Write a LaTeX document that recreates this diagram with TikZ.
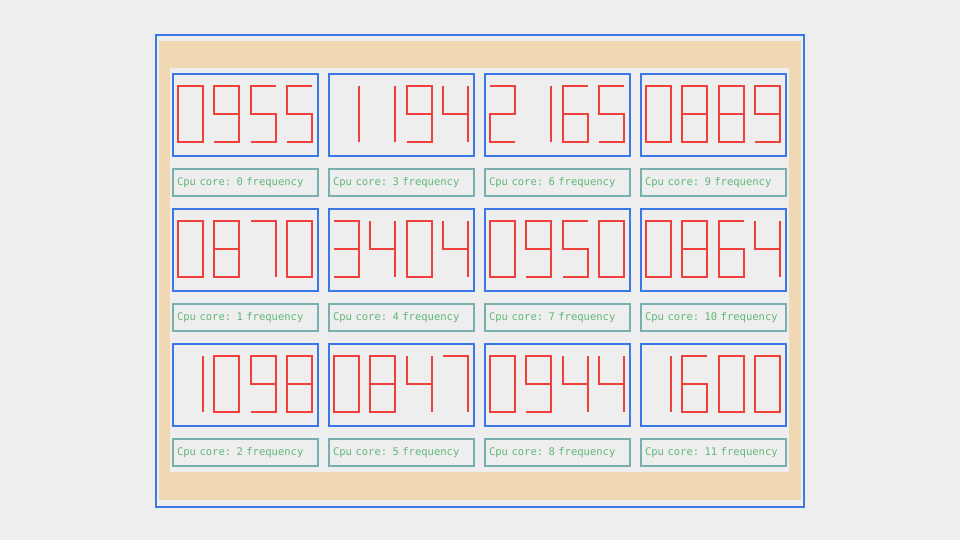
\documentclass[tikz,border=0pt]{standalone}
\usepackage{xcolor}
\usepackage{fontspec}
\newfontfamily\lblfont{DejaVu Sans Mono}
\usepackage{tikz}

\definecolor{panelblue}{RGB}{58,120,232}
\definecolor{segred}{RGB}{240,64,60}
\definecolor{boardtan}{RGB}{240,216,181}
\definecolor{bggray}{RGB}{238,238,238}
\definecolor{lblframe}{RGB}{122,175,176}
\definecolor{lblgreen}{RGB}{95,184,120}

% one seven segment digit, top left corner at (#1,#2)
\newcommand{\segdigit}[3]{%
  \begin{scope}[shift={(#1,#2)}]
  \ifcase#3
    \draw[seg] (0,0) rectangle (25,56);
  \or \draw[seg] (25,0) -- (25,56);
  \or \draw[seg] (0,0) -- (25,0) -- (25,28) -- (0,28) -- (0,56) -- (25,56);
  \or \draw[seg] (0,0) -- (25,0) -- (25,56) -- (0,56) (0,28) -- (25,28);
  \or \draw[seg] (0,0) -- (0,28) -- (25,28) (25,0) -- (25,56);
  \or \draw[seg] (25,0) -- (0,0) -- (0,28) -- (25,28) -- (25,56) -- (0,56);
  \or \draw[seg] (25,0) -- (0,0) -- (0,56) -- (25,56) -- (25,28) -- (0,28);
  \or \draw[seg] (0,0) -- (25,0) -- (25,56);
  \or \draw[seg] (0,0) rectangle (25,56) (0,28) -- (25,28);
  \or \draw[seg] (0,56) -- (25,56) -- (25,0) -- (0,0) -- (0,28) -- (25,28);
  \fi
  \end{scope}}

% display box with four digits
\newcommand{\readout}[7]{%
  \node[dispbox] (#1) at (#2,#3) {};
  \begin{scope}[shift={(#1.north west)}]
    \segdigit{6}{13}{#4}
    \segdigit{42.3}{13}{#5}
    \segdigit{78.6}{13}{#6}
    \segdigit{114.9}{13}{#7}
  \end{scope}}

\begin{document}
\begin{tikzpicture}[x=0.75pt, y=-0.75pt,
  seg/.style={draw=segred, line width=1.4pt},
  dispbox/.style={draw=panelblue, line width=1.5pt, minimum width=108.75pt, minimum height=61.5pt, inner sep=0pt},
  corelbl/.style={draw=lblframe, line width=0.9pt, minimum width=108.75pt, minimum height=20.25pt, text width=102.75pt, inner xsep=3pt, inner ysep=0pt, align=left, text=lblgreen, font=\lblfont\fontsize{7.9}{9}\selectfont}]
   \fill[bggray] (0,0) rectangle (960,540);
   \useasboundingbox (0,0) rectangle (960,540);
   \draw[panelblue, line width=1.5pt] (156,35) rectangle (804,507);
   \fill[boardtan] (159,41) rectangle (801,500);
   \fill[bggray] (170,68) rectangle (789,472);

   \readout{core0}{245.5}{115}{0}{9}{5}{5}
   \readout{core3}{401.5}{115}{1}{1}{9}{4}
   \readout{core6}{557.5}{115}{2}{1}{6}{5}
   \readout{core9}{713.5}{115}{0}{8}{8}{9}
   \readout{core1}{245.5}{250}{0}{8}{7}{0}
   \readout{core4}{401.5}{250}{3}{4}{0}{4}
   \readout{core7}{557.5}{250}{0}{9}{5}{0}
   \readout{core10}{713.5}{250}{0}{8}{6}{4}
   \readout{core2}{245.5}{385}{1}{0}{9}{8}
   \readout{core5}{401.5}{385}{0}{8}{4}{7}
   \readout{core8}{557.5}{385}{0}{9}{4}{4}
   \readout{core11}{713.5}{385}{1}{6}{0}{0}

   \node [corelbl] (lbl0) at (245.5 , 182.5) {Cpu core: 0 frequency};
   \node [corelbl] (lbl3) at (401.5 , 182.5) {Cpu core: 3 frequency};
   \node [corelbl] (lbl6) at (557.5 , 182.5) {Cpu core: 6 frequency};
   \node [corelbl] (lbl9) at (713.5 , 182.5) {Cpu core: 9 frequency};
   \node [corelbl] (lbl1) at (245.5 , 317.5) {Cpu core: 1 frequency};
   \node [corelbl] (lbl4) at (401.5 , 317.5) {Cpu core: 4 frequency};
   \node [corelbl] (lbl7) at (557.5 , 317.5) {Cpu core: 7 frequency};
   \node [corelbl] (lbl10) at (713.5 , 317.5) {Cpu core: 10 frequency};
   \node [corelbl] (lbl2) at (245.5 , 452.5) {Cpu core: 2 frequency};
   \node [corelbl] (lbl5) at (401.5 , 452.5) {Cpu core: 5 frequency};
   \node [corelbl] (lbl8) at (557.5 , 452.5) {Cpu core: 8 frequency};
   \node [corelbl] (lbl11) at (713.5 , 452.5) {Cpu core: 11 frequency};
\end{tikzpicture}
\end{document}
